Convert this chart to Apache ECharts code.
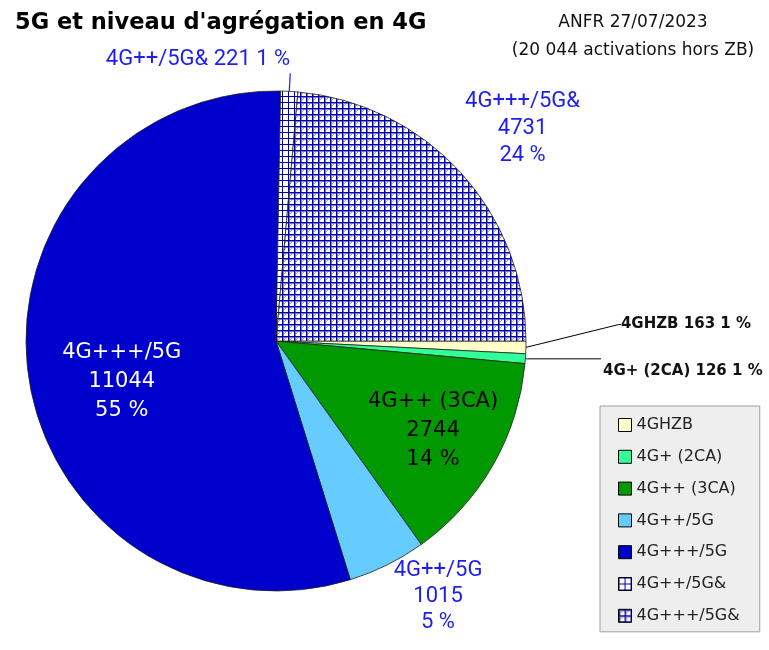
<!DOCTYPE html>
<html>
<head>
<meta charset="utf-8">
<title>5G et niveau d'agrégation en 4G</title>
<script src="https://cdn.jsdelivr.net/npm/echarts@6.0.0/dist/echarts.min.js"></script>
<style>
html, body { margin: 0; padding: 0; background: #ffffff; }
#chart { width: 769px; height: 650px; }
</style>
</head>
<body>
<div id="chart"></div>
<script>
// ---------- data ----------
const categories = ['4GHZB', '4G+ (2CA)', '4G++ (3CA)', '4G++/5G', '4G+++/5G', '4G++/5G&', '4G+++/5G&'];
const activations = [163, 126, 2744, 1015, 11044, 221, 4731];
const titleText = "5G et niveau d'agrégation en 4G";
const sourceLines = ['ANFR 27/07/2023', '(20 044 activations hors ZB)'];

// ---------- helpers ----------
const total = activations.reduce((a, b) => a + b, 0);
const pct = v => Math.round(v / total * 100);

function hatch(step, diagonal, heavy) {
  const c = document.createElement('canvas');
  c.width = step; c.height = step;
  const g = c.getContext('2d');
  g.fillStyle = '#ffffff';
  g.fillRect(0, 0, step, step);
  if (diagonal) {
    g.strokeStyle = '#9a9ae0';
    g.lineWidth = 1;
    g.beginPath(); g.moveTo(0, step); g.lineTo(step, 0); g.stroke();
  }
  if (heavy) {
    g.fillStyle = '#7878cc';
    g.fillRect(0, 1, step, 1);
    g.fillRect(1, 0, 1, step);
  }
  g.fillStyle = '#00009c';
  g.fillRect(0, 0, step, 1);
  g.fillRect(0, 0, 1, step);
  return { image: c, repeat: 'repeat' };
}

const BLUE = '#1e1ef0';
const fills = {
  '4GHZB': '#ffffcc',
  '4G+ (2CA)': '#33ff99',
  '4G++ (3CA)': '#009900',
  '4G++/5G': '#66ccff',
  '4G+++/5G': '#0000cc',
  '4G++/5G&': hatch(6, false, false),
  '4G+++/5G&': hatch(6, true, true)
};

const inline = p => `{k|${p.name} ${p.value} ${pct(p.value)} %}`;
const stacked = p => `{k|${p.name}}\n{k|${p.value}}\n{k|${pct(p.value)} %}`;
const rich = (color, family, size, lh, weight) => ({ k: { align: 'center', color: color, fontFamily: family, fontSize: size, lineHeight: lh, fontWeight: weight || 'normal' } });

const labelStyles = {
  '4GHZB': {
    label: { position: 'outside', formatter: inline, rich: rich('#111111', 'DejaVu Sans', 15, 18, 'bold'), padding: [0, 0, 0, 3], distanceToLabelLine: 5 },
    labelLine: { show: true, length: 4, length2: 2, lineStyle: { color: '#000', width: 1 } }
  },
  '4G+ (2CA)': {
    label: { position: 'outside', formatter: inline, rich: rich('#111111', 'DejaVu Sans', 15, 18, 'bold'), padding: [24, 0, 0, 0], distanceToLabelLine: 2 },
    labelLine: { show: true, length: 2, length2: 73.6, lineStyle: { color: '#000', width: 1 } }
  },
  '4G++ (3CA)': {
    label: { position: 'inside', formatter: stacked, rich: rich('#000000', 'DejaVu Sans', 21, 29), padding: [51, 0, 0, 92] }
  },
  '4G++/5G': {
    label: { position: 'outside', formatter: stacked, rich: rich(BLUE, 'Roboto', 22, 26), padding: [62, 0, 0, 6], distanceToLabelLine: 0 },
    labelLine: { show: false, length: 1, length2: 0 }
  },
  '4G+++/5G': {
    label: { position: 'inside', formatter: stacked, rich: rich('#ffffff', 'DejaVu Sans', 21, 29), padding: [44, 55, 0, 0] }
  },
  '4G++/5G&': {
    label: { position: 'outside', formatter: inline, rich: rich(BLUE, 'Roboto', 22, 26), padding: [0, 0, 27, 0], distanceToLabelLine: 0 },
    labelLine: { show: true, length: 18, length2: 0, lineStyle: { color: BLUE, width: 1.2 } }
  },
  '4G+++/5G&': {
    label: { position: 'outside', formatter: stacked, rich: rich(BLUE, 'Roboto', 22, 27), padding: [0, 0, 85, 4], distanceToLabelLine: 0 },
    labelLine: { show: false, length: 1, length2: 0 }
  }
};

// label nudges relative to the library's own label placement
const labelNudges = {
  '4GHZB': r => ({ x: r.x + 78, y: r.y + r.height / 2 - 23 }),
  '4G++/5G&': () => ({ align: 'right' })
};

const pieData = categories.map((name, i) => Object.assign({
  name: name,
  value: activations[i],
  itemStyle: { color: fills[name] }
}, labelStyles[name]));

const chart = echarts.init(document.getElementById('chart'), null, { renderer: 'canvas' });
chart.setOption({
  animation: false,
  backgroundColor: '#ffffff',
  title: [
    {
      text: titleText, left: 15, top: 12, padding: 0,
      textStyle: { fontFamily: 'DejaVu Sans', fontWeight: 'bold', fontSize: 22.5, color: '#000' }
    },
    {
      text: sourceLines.join('\n'), left: 633, top: 9, padding: 0, textAlign: 'center',
      textStyle: { fontFamily: 'DejaVu Sans', fontWeight: 'normal', fontSize: 17, lineHeight: 28, color: '#111', align: 'center' }
    }
  ],
  legend: {
    orient: 'vertical', left: 600, top: 406,
    padding: [11, 20, 8, 18], itemGap: 15.8,
    itemWidth: 13, itemHeight: 13, icon: 'rect',
    backgroundColor: '#eeeeee', borderColor: '#a0a0a0', borderWidth: 1,
    textStyle: { fontFamily: 'DejaVu Sans', fontSize: 16, color: '#222' },
    itemStyle: { borderColor: '#000', borderWidth: 1 },
    selectedMode: false,
    data: categories
  },
  series: [{
    type: 'pie',
    center: [276, 341],
    radius: 250,
    startAngle: 0,
    clockwise: true,
    avoidLabelOverlap: false,
    silent: true,
    itemStyle: { borderColor: '#222', borderWidth: 0.8 },
    label: { fontFamily: 'Roboto', fontSize: 22, color: BLUE },
    labelLayout: params => {
      const f = labelNudges[categories[params.dataIndex]];
      return f ? f(params.labelRect) : {};
    },
    emphasis: { disabled: true },
    data: pieData
  }]
});
</script>
</body>
</html>
